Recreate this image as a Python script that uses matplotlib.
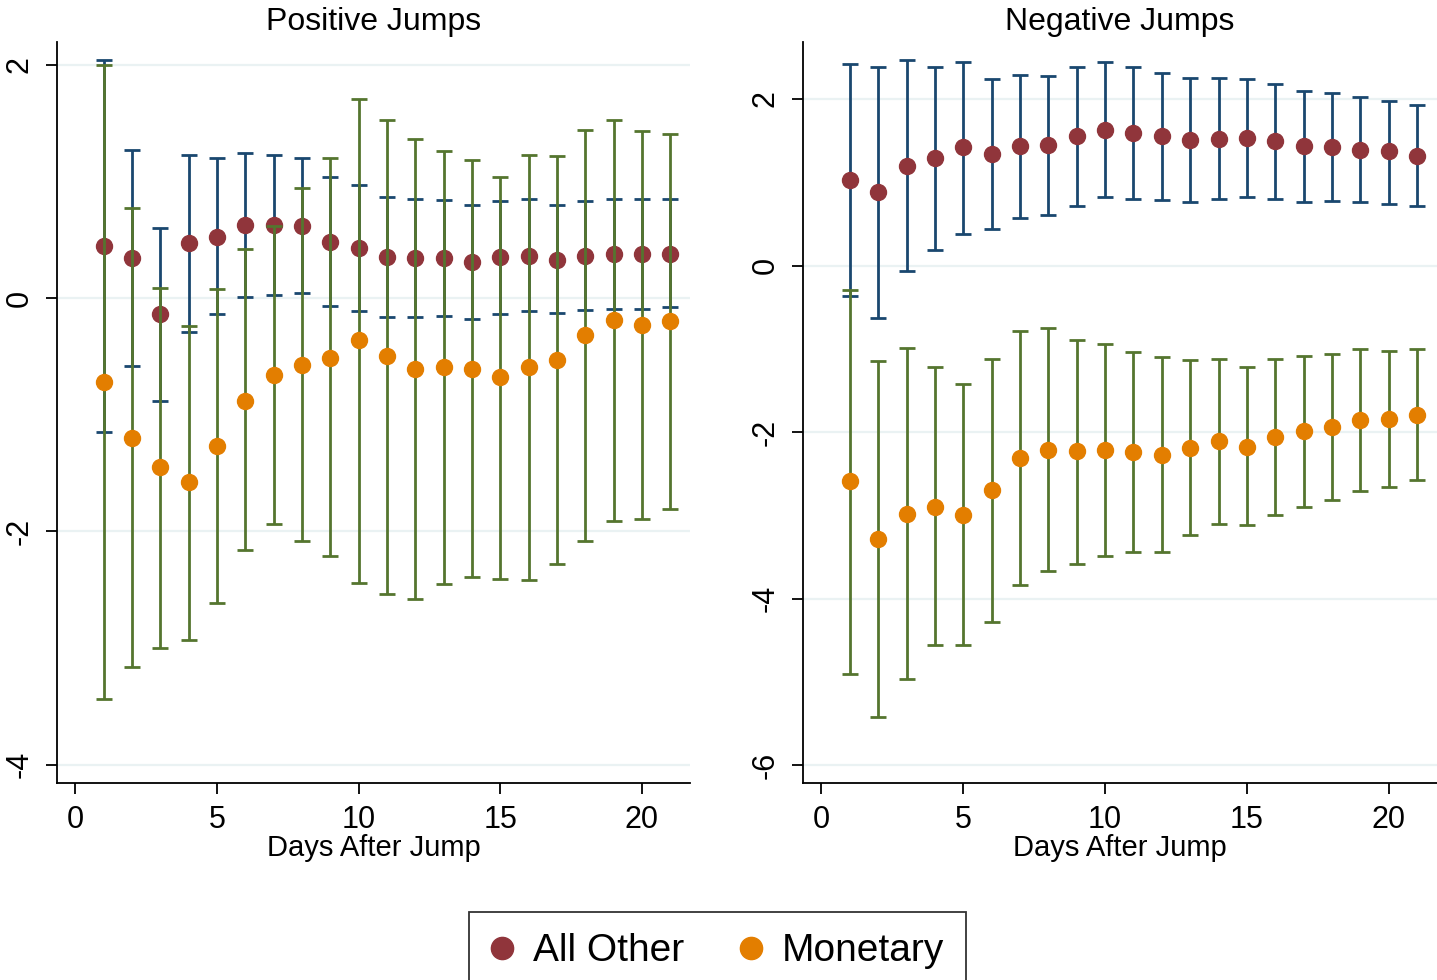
import numpy as np
import matplotlib
matplotlib.use("Agg")
import matplotlib.pyplot as plt
from matplotlib.lines import Line2D

plt.rcParams['font.family'] = ['Liberation Sans', 'DejaVu Sans']
plt.rcParams['axes.unicode_minus'] = False

days = list(range(1, 22))

# Positive jumps
pos_other = [0.45, 0.34, -0.14, 0.47, 0.52, 0.63, 0.63, 0.62, 0.48, 0.43, 0.35,
             0.345, 0.345, 0.31, 0.35, 0.365, 0.33, 0.365, 0.38, 0.38, 0.38]
pos_other_hi = [2.04, 1.27, 0.60, 1.23, 1.20, 1.24, 1.23, 1.20, 1.04, 0.97, 0.87,
                0.85, 0.84, 0.80, 0.83, 0.85, 0.80, 0.83, 0.85, 0.85, 0.85]
pos_other_lo = [-1.15, -0.58, -0.88, -0.29, -0.14, 0.01, 0.03, 0.04, -0.07, -0.11, -0.16,
                -0.16, -0.15, -0.18, -0.14, -0.11, -0.13, -0.10, -0.09, -0.09, -0.08]
pos_mon = [-0.72, -1.20, -1.45, -1.58, -1.27, -0.88, -0.66, -0.57, -0.51, -0.36, -0.50,
           -0.61, -0.59, -0.61, -0.68, -0.59, -0.53, -0.32, -0.19, -0.23, -0.20]
pos_mon_hi = [2.00, 0.77, 0.09, -0.24, 0.08, 0.42, 0.62, 0.94, 1.20, 1.71, 1.53,
              1.36, 1.26, 1.18, 1.04, 1.23, 1.22, 1.44, 1.53, 1.43, 1.41]
pos_mon_lo = [-3.44, -3.16, -3.00, -2.93, -2.61, -2.16, -1.94, -2.08, -2.21, -2.44, -2.54,
              -2.58, -2.45, -2.39, -2.41, -2.42, -2.28, -2.08, -1.91, -1.89, -1.81]

# Negative jumps
neg_other = [1.03, 0.88, 1.20, 1.29, 1.42, 1.34, 1.43, 1.45, 1.55, 1.63, 1.59,
             1.55, 1.51, 1.52, 1.53, 1.49, 1.43, 1.42, 1.39, 1.37, 1.32]
neg_other_hi = [2.42, 2.39, 2.47, 2.39, 2.45, 2.24, 2.29, 2.28, 2.39, 2.44, 2.38,
                2.31, 2.25, 2.25, 2.24, 2.18, 2.10, 2.07, 2.02, 1.98, 1.93]
neg_other_lo = [-0.36, -0.63, -0.07, 0.19, 0.38, 0.44, 0.57, 0.61, 0.72, 0.82, 0.80,
                0.79, 0.76, 0.80, 0.82, 0.80, 0.76, 0.77, 0.76, 0.74, 0.72]
neg_mon = [-2.59, -3.28, -2.98, -2.90, -2.99, -2.70, -2.31, -2.21, -2.23, -2.22, -2.24,
           -2.27, -2.19, -2.11, -2.18, -2.06, -1.99, -1.94, -1.86, -1.84, -1.79]
neg_mon_hi = [-0.29, -1.14, -0.99, -1.22, -1.42, -1.12, -0.78, -0.75, -0.89, -0.94, -1.04,
              -1.10, -1.13, -1.12, -1.22, -1.12, -1.08, -1.06, -1.00, -1.02, -1.00]
neg_mon_lo = [-4.90, -5.42, -4.96, -4.56, -4.56, -4.28, -3.84, -3.67, -3.58, -3.49, -3.44,
              -3.44, -3.24, -3.10, -3.12, -3.00, -2.90, -2.82, -2.71, -2.66, -2.58]

NAVY = "#1a476f"
MAROON = "#90353b"
GREEN = "#55752f"
ORANGE = "#e37e00"
GRID = "#eaf2f3"


def draw_panel(ax, title, other, o_lo, o_hi, mon, m_lo, m_hi, ylim, yticks):
    x = np.array(days)
    other, o_lo, o_hi = map(np.array, (other, o_lo, o_hi))
    mon, m_lo, m_hi = map(np.array, (mon, m_lo, m_hi))
    ax.errorbar(x, other, yerr=[other - o_lo, o_hi - other], fmt='none',
                ecolor=NAVY, elinewidth=2, capsize=6, capthick=2, zorder=2)
    ax.plot(x, other, 'o', color=MAROON, markersize=11.5, zorder=3)
    ax.errorbar(x, mon, yerr=[mon - m_lo, m_hi - mon], fmt='none',
                ecolor=GREEN, elinewidth=2, capsize=6, capthick=2, zorder=4)
    ax.plot(x, mon, 'o', color=ORANGE, markersize=11.5, zorder=5)

    ax.set_ylim(*ylim)
    ax.set_yticks(yticks)
    ax.set_xticks([0, 5, 10, 15, 20])
    ax.set_xlim(-0.65, 21.7)
    for y in yticks:
        ax.axhline(y, color=GRID, lw=1.6, zorder=0)

    ax.spines['top'].set_visible(False)
    ax.spines['right'].set_visible(False)
    ax.spines['left'].set_linewidth(1.3)
    ax.spines['bottom'].set_linewidth(1.3)
    ax.tick_params(axis='both', length=8, width=1.3, labelsize=22, pad=8)
    ax.tick_params(axis='y', labelrotation=90)
    for lab in ax.get_yticklabels():
        lab.set_va('center')
    ax.set_title(title, fontsize=23, pad=9)
    ax.set_xlabel("Days After Jump", fontsize=21, labelpad=-1)


fig = plt.figure(figsize=(14.37, 9.8), dpi=100)
ax1 = fig.add_axes([0.0397, 0.201, 0.4405, 0.756])
ax2 = fig.add_axes([0.5588, 0.201, 0.4412, 0.756])

draw_panel(ax1, "Positive Jumps", pos_other, pos_other_lo, pos_other_hi,
           pos_mon, pos_mon_lo, pos_mon_hi, (-4.156, 2.194), [-4, -2, 0, 2])
draw_panel(ax2, "Negative Jumps", neg_other, neg_other_lo, neg_other_hi,
           neg_mon, neg_mon_lo, neg_mon_hi, (-6.213, 2.683), [-6, -4, -2, 0, 2])

handles = [Line2D([], [], ls='none', marker='o', color=MAROON, markersize=16),
           Line2D([], [], ls='none', marker='o', color=ORANGE, markersize=16)]
leg = fig.legend(handles, ["All Other", "Monetary"], loc='upper center',
                 bbox_to_anchor=(0.4993, 1 - 912 / 980), ncol=2, fontsize=28,
                 frameon=True, fancybox=False, handlelength=0.6,
                 handletextpad=0.5, columnspacing=1.4, borderpad=0.55,
                 borderaxespad=0)
leg.get_frame().set_edgecolor('black')
leg.get_frame().set_linewidth(1.3)

fig.savefig("out.png", dpi=100)
